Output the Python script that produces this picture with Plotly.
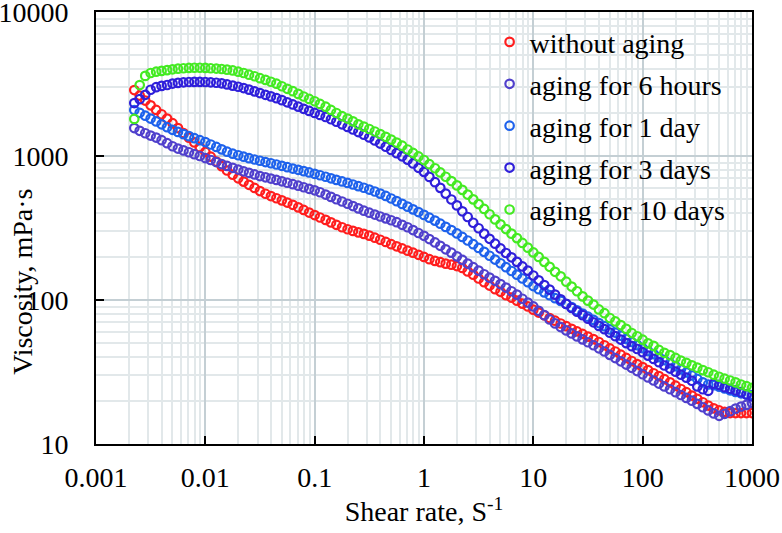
import plotly.graph_objects as go

# shear rate, 1/s (same sweep for every sample)
shear_rate = [
    0.00224, 0.00251, 0.00282, 0.00316, 0.00355, 0.00398, 0.00447, 0.00501, 0.00562, 0.00631, 0.00708, 0.00794, 0.00891,
    0.0100, 0.0112, 0.0126, 0.0141, 0.0158, 0.0178, 0.0200, 0.0224, 0.0251, 0.0282, 0.0316, 0.0355, 0.0398, 0.0447, 0.0501, 0.0562, 0.0631, 0.0708, 0.0794, 0.0891,
    0.100, 0.112, 0.126, 0.141, 0.158, 0.178, 0.200, 0.224, 0.251, 0.282, 0.316, 0.355, 0.398, 0.447, 0.501, 0.562, 0.631, 0.708, 0.794, 0.891,
    1.00, 1.12, 1.26, 1.41, 1.58, 1.78, 2.00, 2.24, 2.51, 2.82, 3.16, 3.55, 3.98, 4.47, 5.01, 5.62, 6.31, 7.08, 7.94, 8.91,
    10.0, 11.2, 12.6, 14.1, 15.8, 17.8, 20.0, 22.4, 25.1, 28.2, 31.6, 35.5, 39.8, 44.7, 50.1, 56.2, 63.1, 70.8, 79.4, 89.1,
    100, 112, 126, 141, 158, 178, 200, 224, 251, 282, 316, 355, 398, 447, 501, 562, 631, 708, 794, 891,
    1000,
]

# viscosity, mPa.s
visc_no_aging = [
    2871, 2630, 2427, 2249, 2089, 1950, 1820, 1690, 1563, 1445, 1340, 1242, 1151,
    1067, 989, 916, 851, 793, 741, 700, 664, 631, 600, 571, 547, 527, 509, 492, 475, 458, 440, 422, 405,
    389, 374, 360, 346, 333, 320, 310, 302, 295, 288, 280, 271, 262, 253, 244, 236, 228, 220, 213, 206,
    199, 192, 187, 183, 179, 176, 172, 167, 158, 150, 141, 133, 126, 119, 114, 108, 104, 98.9, 94.4, 90.2,
    85.7, 81.8, 78.3, 75.0, 71.8, 68.7, 65.8, 63.1, 60.5, 58.1, 55.7, 53.5, 51.1, 48.5, 46.1, 43.9, 41.7, 39.6, 37.7, 35.9,
    34.2, 32.6, 31.0, 29.6, 28.2, 26.8, 25.4, 24.1, 22.9, 21.7, 20.6, 19.5, 18.5, 17.7, 17.1, 16.7, 16.4, 16.4, 16.4, 16.4,
    16.4,
]

visc_6_hours = [
    1563, 1496, 1439, 1387, 1343, 1288, 1227, 1169, 1127, 1094, 1062, 1030, 1000,
    968, 938, 908, 879, 853, 828, 805, 783, 764, 745, 726, 711, 697, 682, 667, 652, 637, 622, 607, 592,
    578, 560, 540, 520, 501, 483, 466, 449, 433, 417, 404, 392, 380, 369, 358, 347, 333, 320, 306, 292,
    279, 265, 251, 238, 225, 213, 201, 190, 179, 169, 160, 151, 143, 136, 129, 122, 115, 109, 102, 96.0,
    90.2, 84.1, 78.5, 73.3, 68.8, 64.9, 61.5, 58.6, 55.9, 53.3, 50.9, 48.5, 46.2, 43.9, 41.6, 39.5, 37.5, 35.6, 33.8, 32.1,
    30.5, 29.0, 27.6, 26.3, 25.1, 24.0, 22.9, 21.9, 20.9, 20.0, 19.0, 18.0, 17.1, 16.3, 15.7, 16.2, 16.9, 17.6, 18.2, 18.7,
    19.3,
]

visc_1_day = [
    2084, 1995, 1905, 1820, 1738, 1660, 1585, 1521, 1469, 1419, 1374, 1330, 1288,
    1250, 1202, 1156, 1112, 1072, 1038, 1012, 989, 966, 946, 927, 908, 891, 873, 855, 836, 818, 802, 785, 769,
    752, 735, 718, 700, 683, 666, 650, 634, 618, 602, 585, 567, 548, 528, 507, 486, 465, 445, 426, 408,
    390, 373, 356, 339, 322, 306, 290, 274, 259, 244, 230, 216, 203, 191, 180, 169, 159, 150, 141, 133,
    125, 119, 113, 108, 103, 98.5, 93.8, 89.2, 84.8, 80.6, 76.6, 72.8, 69.2, 65.8, 62.5, 59.4, 56.5, 53.7, 51.1, 48.6,
    46.3, 44.2, 42.1, 40.1, 38.2, 36.4, 34.7, 33.0, 31.4, 29.9, 28.3, 26.8, 25.9, 25.6, 25.0, 24.3, 23.6, 23.0, 22.5, 22.1,
    21.9,
]

visc_3_days = [
    2333, 2483, 2661, 2884, 3006, 3069, 3112, 3184, 3221, 3251, 3266, 3273, 3273,
    3266, 3251, 3228, 3199, 3141, 3083, 3027, 2965, 2891, 2812, 2735, 2661, 2594, 2523, 2443, 2360, 2280, 2203, 2128, 2056,
    1991, 1928, 1866, 1800, 1730, 1660, 1592, 1528, 1466, 1406, 1346, 1284, 1220, 1160, 1102, 1047, 995, 944, 887, 828,
    776, 716, 658, 601, 548, 499, 454, 413, 377, 344, 315, 289, 266, 246, 228, 212, 198, 184, 171, 160,
    148, 137, 127, 118, 109, 101, 94.0, 88.0, 83.0, 78.5, 74.1, 70.0, 66.1, 62.7, 59.3, 56.1, 53.1, 50.2, 47.8, 45.7,
    43.4, 41.1, 39.0, 37.0, 35.1, 33.4, 31.8, 30.3, 28.9, 27.5, 25.1, 24.0, 23.4, 26.3, 25.7, 24.8, 24.2, 23.6, 22.9, 22.1,
    21.4,
]

visc_10_days = [
    1810, 3110, 3600, 3770, 3850, 3900, 3950, 4000, 4040, 4070, 4090, 4100, 4100,
    4090, 4070, 4050, 4020, 3980, 3930, 3850, 3770, 3670, 3580, 3470, 3380, 3280, 3180, 3050, 2930, 2820, 2700, 2590, 2490,
    2400, 2300, 2200, 2090, 1990, 1890, 1820, 1740, 1660, 1600, 1540, 1480, 1420, 1360, 1300, 1240, 1180, 1110, 1050, 993,
    938, 877, 822, 769, 718, 670, 625, 582, 540, 500, 464, 429, 394, 363, 335, 311, 289, 269, 249, 231,
    214, 199, 184, 170, 157, 146, 134, 124, 115, 106, 99.0, 93.0, 86.0, 81.0, 75.0, 71.0, 67.0, 63.0, 59.0, 56.0,
    53.0, 50.0, 48.0, 45.0, 43.0, 41.4, 39.6, 37.9, 36.6, 35.2, 33.9, 32.6, 31.5, 30.3, 29.3, 28.4, 27.6, 26.8, 25.9, 25.2,
    24.5,
]

visc_ticks = [10, 100, 1000, 10000]
visc_tick_labels = ['10', '100', '1000', '10000']

series = [
    ('without aging', visc_no_aging, '#ff1e1e'),
    ('aging for 6 hours', visc_6_hours, '#5040cc'),
    ('aging for 1 day', visc_1_day, '#1e62ec'),
    ('aging for 3 days', visc_3_days, '#2f1fda'),
    ('aging for 10 days', visc_10_days, '#44ea22'),
]

font_family = 'Liberation Serif'

fig = go.Figure()
for name, visc, color in series:
    fig.add_trace(go.Scatter(
        x=shear_rate,
        y=visc,
        mode='markers',
        name=name,
        legendgroup=name,
        marker=dict(symbol='circle-open', size=8.5, color=color, line=dict(width=2.2, color=color)),
    ))

axis_style = dict(
    type='log',
    automargin=False,
    ticklabeloverflow='allow',
    showline=True,
    linecolor='black',
    linewidth=2,
    mirror=True,
    ticks='inside',
    ticklen=8,
    tickwidth=2,
    tickcolor='black',
    showgrid=True,
    gridcolor='#c4cfd4',
    gridwidth=2,
    zeroline=False,
    tickfont=dict(family=font_family, size=28, color='black'),
    minor=dict(dtick='D1', showgrid=True, gridcolor='#e2e8ea', gridwidth=2, ticks=''),
)

fig.update_xaxes(
    **axis_style,
    dtick=1,
    exponentformat='none',
    range=[-3, 3.0001],
    ticklabelstandoff=7,
    title=dict(text='Shear rate, S<sup>-1</sup>', font=dict(family=font_family, size=28, color='black'), standoff=4),
)
fig.update_yaxes(
    **axis_style,
    tickmode='array',
    tickvals=visc_ticks,
    ticktext=visc_tick_labels,
    range=[1, 4.0001],
    ticklabelstandoff=20,
)

fig.add_annotation(
    text='Viscosity, mPa·s',
    textangle=-90,
    xref='paper', yref='paper',
    x=-0.113, y=0.375,
    xanchor='center', yanchor='middle',
    showarrow=False,
    font=dict(family=font_family, size=28, color='black'),
)

fig.update_layout(
    width=782,
    height=533,
    margin=dict(l=96, r=30, t=12, b=89),
    plot_bgcolor='white',
    paper_bgcolor='white',
    legend=dict(
        x=0.600, y=0.988, xanchor='left', yanchor='top',
        bgcolor='rgba(0,0,0,0)',
        font=dict(family=font_family, size=28, color='black'),
        traceorder='grouped',
        tracegroupgap=2.5,
        itemwidth=30,
    ),
)

# page body has a default 8px margin; drop it so the figure sits at the window's corner
fig.write_html(
    'out.html',
    config={'displayModeBar': False},
    post_script="document.body.style.margin = '0';",
)
